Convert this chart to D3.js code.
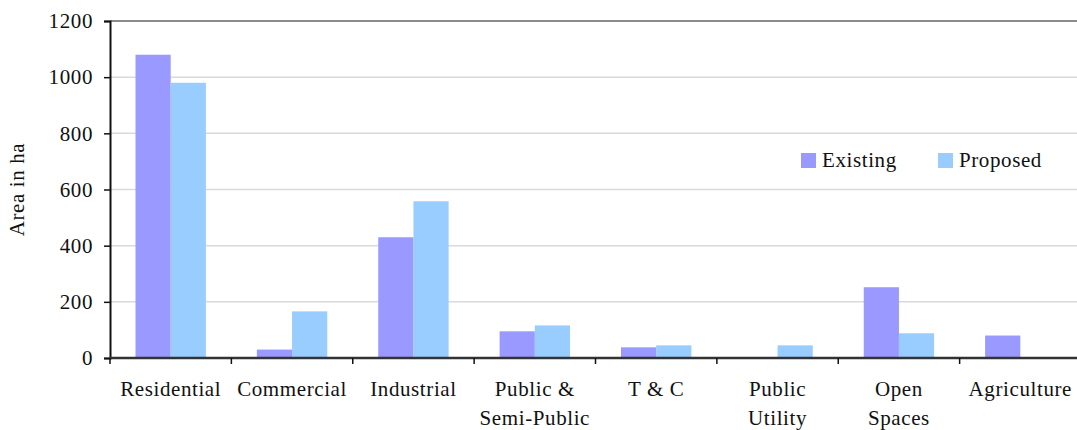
<!DOCTYPE html>
<html>
<head>
<meta charset="utf-8">
<script src="https://cdn.jsdelivr.net/npm/d3@7"></script>
<style>
	body { margin: 0; background: #fff; }
</style>
</head>
<body>
<svg id="container"></svg>
<script>
// chart data
const categories = ["Residential", "Commercial", "Industrial", "Public & Semi-Public", "T & C", "Public Utility", "Open Spaces", "Agriculture"];
const categoryLines = [["Residential"], ["Commercial"], ["Industrial"], ["Public &", "Semi-Public"], ["T & C"], ["Public", "Utility"], ["Open", "Spaces"], ["Agriculture"]];
const seriesNames = ["Existing", "Proposed"];
const existing = [1080, 30, 430, 95, 38, 0, 252, 80];
const proposed = [980, 166, 558, 116, 45, 45, 88, 0];
const yTicks = [0, 200, 400, 600, 800, 1000, 1200];
const colors = ["#9999ff", "#99ccff"];

const FONT = "'Liberation Serif', 'Times New Roman', Times, serif";
const FSIZE = "21px", LSP = "0.6px";

const W = 1077, H = 430;
const margin = { top: 21, right: -4, bottom: 72, left: 110 };
const w = W - margin.left - margin.right,
	h = H - margin.top - margin.bottom;

const svg = d3.select("#container")
	.attr("width", W)
	.attr("height", H)
	.style("font-family", FONT);

const g = svg.append("g")
	.attr("transform", "translate(" + margin.left + "," + margin.top + ")");

// scales
const x0 = d3.scaleBand().domain(categories).range([0, w]).paddingInner(0).paddingOuter(0);
const x1 = d3.scaleBand().domain(seriesNames).range([25.5, x0.bandwidth() - 25.5]);
const y = d3.scaleLinear().domain([0, 1200]).range([h, 0]);

// gridlines
g.selectAll(".grid")
	.data(yTicks.filter(d => d > 0 && d < 1200))
	.enter()
	.append("line")
	.attr("x1", 0)
	.attr("x2", w)
	.attr("y1", d => y(d))
	.attr("y2", d => y(d))
	.attr("stroke", "#d9d9d9")
	.attr("stroke-width", 1.5);

// top border
g.append("line")
	.attr("x1", 0).attr("x2", w)
	.attr("y1", y(1200)).attr("y2", y(1200))
	.attr("stroke", "#8c8c8c")
	.attr("stroke-width", 2);

// bars
const data = categories.map((c, i) => ({ cat: c, vals: [existing[i], proposed[i]] }));
const groups = g.selectAll(".cat")
	.data(data)
	.enter()
	.append("g")
	.attr("transform", d => "translate(" + x0(d.cat) + ",0)");

groups.selectAll("rect")
	.data(d => d.vals.map((v, k) => ({ key: seriesNames[k], v: v, k: k })))
	.enter()
	.append("rect")
	.attr("x", d => x1(d.key))
	.attr("width", x1.bandwidth())
	.attr("y", d => y(d.v))
	.attr("height", d => h - y(d.v))
	.attr("fill", d => colors[d.k]);

// y axis
const yAxis = d3.axisLeft(y).tickValues(yTicks).tickFormat(d3.format("d")).tickSize(6).tickPadding(11);
const gY = g.append("g").call(yAxis).attr("font-family", null);
gY.select(".domain").attr("stroke", "#111").attr("stroke-width", 2);
gY.selectAll(".tick line").attr("stroke", "#111").attr("stroke-width", 1.5);
gY.selectAll(".tick text")
	.style("font-family", FONT)
	.style("font-size", FSIZE)
	.style("letter-spacing", LSP)
	.attr("fill", "#111");

// x axis
const xAxis = g.append("g").attr("transform", "translate(0," + h + ")");
xAxis.append("line")
	.attr("x1", 0).attr("x2", w)
	.attr("stroke", "#333")
	.attr("stroke-width", 2.5);
xAxis.selectAll(".xtick")
	.data(categories)
	.enter()
	.append("line")
	.attr("x1", d => x0(d)).attr("x2", d => x0(d))
	.attr("y1", 0).attr("y2", 6)
	.attr("stroke", "#111")
	.attr("stroke-width", 1.5);

const labels = xAxis.selectAll(".xlabel")
	.data(categories)
	.enter()
	.append("text")
	.attr("text-anchor", "middle")
	.attr("x", d => x0(d) + x0.bandwidth() / 2)
	.attr("y", 38)
	.attr("fill", "#111")
	.style("font-family", FONT)
	.style("font-size", FSIZE)
	.style("letter-spacing", LSP);

labels.selectAll("tspan")
	.data((d, i) => categoryLines[i])
	.enter()
	.append("tspan")
	.attr("x", function () { return d3.select(this.parentNode).attr("x"); })
	.attr("dy", (d, i) => i === 0 ? 0 : 29)
	.text(d => d);

// y axis title
svg.append("text")
	.attr("transform", "translate(24," + (margin.top + h / 2) + ") rotate(-90)")
	.attr("text-anchor", "middle")
	.attr("fill", "#111")
	.style("font-family", FONT)
	.style("font-size", FSIZE)
	.style("letter-spacing", LSP)
	.text("Area in ha");

// legend
const legend = svg.append("g");
const legendX = [801, 938];
seriesNames.forEach((s, i) => {
	legend.append("rect")
		.attr("x", legendX[i]).attr("y", 153)
		.attr("width", 15).attr("height", 15)
		.attr("fill", colors[i]);
	legend.append("text")
		.attr("x", legendX[i] + 21).attr("y", 167)
		.attr("fill", "#111")
		.style("font-family", FONT)
		.style("font-size", FSIZE)
		.style("letter-spacing", LSP)
		.text(s);
});
</script>
</body>
</html>
